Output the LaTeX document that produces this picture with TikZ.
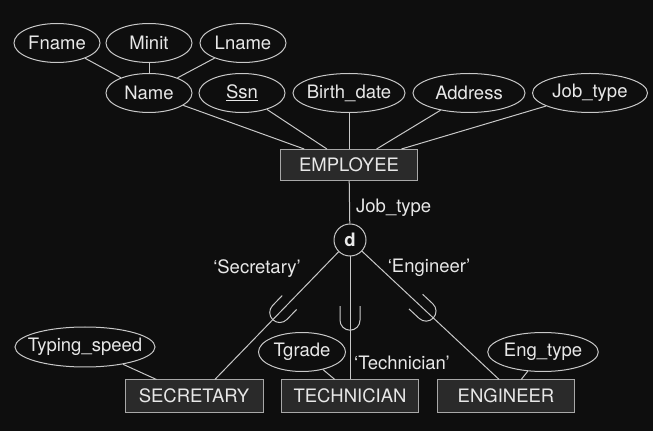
\documentclass[tikz,border=0pt]{standalone}
\usepackage{fontspec}
\setmainfont{TeX Gyre Heros}
\usepackage{xcolor}
\usetikzlibrary{shapes,calc}

\definecolor{bgcol}{HTML}{0E0E0E}
\definecolor{linecol}{HTML}{C8C8C8}
\definecolor{txtcol}{HTML}{E8E8E8}
\definecolor{boxfill}{HTML}{2A2A2A}
\definecolor{boxline}{HTML}{A8A8A8}

\begin{document}
\begin{tikzpicture}[x=1pt, y=1pt, font=\fontsize{18.5}{22}\selectfont,
    attr/.style={ellipse, draw=linecol, line width=1pt, text=txtcol, inner sep=0pt, minimum width=86pt, minimum height=39pt},
    entity/.style={rectangle, draw=boxline, fill=boxfill, line width=1pt, text=txtcol, inner sep=0pt, minimum width=138pt, minimum height=32pt},
    conn/.style={draw=linecol, line width=1pt},
    lbl/.style={text=txtcol, inner sep=0pt},
    subset/.pic={\draw[conn] (-10pt,14pt) -- (-10pt,0pt) arc (180:360:10pt) -- (10pt,14pt);}]
    \fill[bgcol] (0,0) rectangle (653,431);
    \useasboundingbox (0,0) rectangle (653,431);

    % attributes of EMPLOYEE
    \node (fname) [attr] at (57,388) {Fname};
    \node (minit) [attr] at (149,388) {Minit};
    \node (lname) [attr] at (243,388) {Lname};
    \node (name) [attr] at (149,338) {Name};
    \node (ssn) [attr] at (242,338) {\underline{Ssn}};
    \node (bdate) [attr, minimum width=112pt] at (349,338) {\makebox[0pt]{Birth\_date}};
    \node (address) [attr, minimum width=112pt] at (469,338) {Address};
    \node (jobtype) [attr, minimum width=115pt] at (590,338) {Job\_type};

    \node (employee) [entity, minimum width=137pt, minimum height=31pt] at (349,266) {EMPLOYEE};

    % disjointness circle
    \node (d) [circle, draw=linecol, line width=1pt, text=txtcol, inner sep=0pt, minimum size=32pt] at (350,191) {\textbf{d}};
    \node (disclbl) [lbl, anchor=west] at (356,223) {Job\_type};

    % subclasses
    \node (sec) [entity] at (194,35) {SECRETARY};
    \node (tech) [entity, minimum width=137pt] at (350,35) {TECHNICIAN};
    \node (eng) [entity, minimum width=137pt] at (506,35) {ENGINEER};

    \node (typing) [attr, minimum width=140pt, minimum height=40pt] at (85,84) {\makebox[0pt]{Typing\_speed}};
    \node (tgrade) [attr, minimum width=87pt] at (302,79) {Tgrade};
    \node (engtype) [attr, minimum width=109pt] at (543,79) {Eng\_type};

    \node (seclbl) [lbl] at (257,162) {‘Secretary’};
    \node (englbl) [lbl] at (429,163) {‘Engineer’};
    \node (techlbl) [lbl] at (402,68) {‘Technician’};

    % connectors
    \draw[conn] (fname) -- (name);
    \draw[conn] (minit) -- (name);
    \draw[conn] (lname) -- (name);
    \foreach \a/\f in {name/0.175, ssn/0.34, bdate/0.5, address/0.7, jobtype/0.88} {
        \coordinate (top-\a) at ($(employee.north west)!\f!(employee.north east)$);
        \draw[conn] (\a) -- (top-\a);
    }
    \draw[conn] (employee) -- (d);

    \coordinate (secTop) at ($(sec.north west)!0.65!(sec.north east)$);
    \coordinate (engTop) at ($(eng.north west)!0.45!(eng.north east)$);
    \coordinate (secA) at ($(sec.north west)!0.23!(sec.north east)$);
    \coordinate (techA) at ($(tech.north west)!0.39!(tech.north east)$);
    \coordinate (engA) at ($(eng.north west)!0.61!(eng.north east)$);

    \draw[conn] (d) -- (secTop);
    \draw[conn] (d) -- (tech);
    \draw[conn] (d) -- (engTop);
    \draw[conn] (typing) -- (secA);
    \draw[conn] (tgrade) -- (techA);
    \draw[conn] (engtype) -- (engA);

    % subset marks
    \pic[rotate=-44] at ($(d)!0.52!(secTop)$) {subset};
    \pic at ($(d)!0.575!(tech.north)$) {subset};
    \pic[rotate=47] at ($(d)!0.51!(engTop)$) {subset};
\end{tikzpicture}
\end{document}
